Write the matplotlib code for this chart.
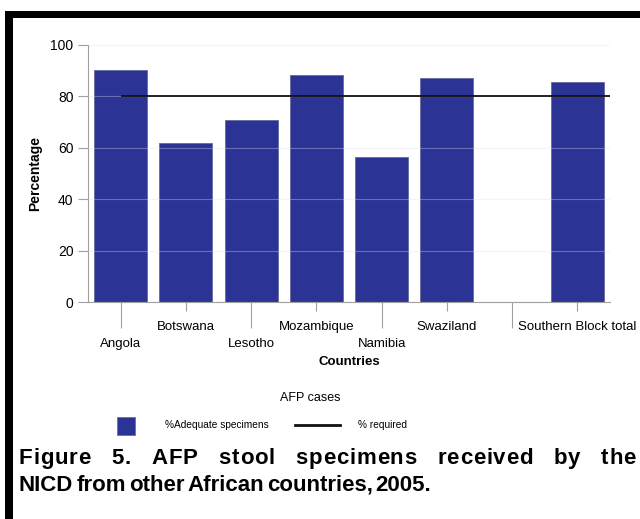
import numpy as np
import matplotlib.pyplot as plt
from matplotlib.patches import Rectangle
from matplotlib.lines import Line2D

plt.rcParams['font.family'] = ['Liberation Sans', 'DejaVu Sans']

# AFP stool specimens, % adequate per country (7th slot left empty)
countries = ['Angola', 'Botswana', 'Lesotho', 'Mozambique', 'Namibia',
             'Swaziland', '', 'Southern Block total']
adequate = [90.2, 62.0, 70.8, 88.5, 56.3, 87.2, np.nan, 85.5]
required = 80
yticks = [0, 20, 40, 60, 80, 100]

BLUE = '#2b3494'
GREY = '#a0a0a0'
W, H = 640, 519


def fx(px):
    return px / W


def fy(py):
    return 1 - py / H


fig = plt.figure(figsize=(6.4, 5.19), dpi=100)
ax = fig.add_axes([fx(88), fy(302), fx(610) - fx(88), fy(45) - fy(302)])

x = np.arange(len(countries))
ax.bar(x, adequate, width=0.81, color=BLUE, edgecolor='#6a6fa8',
       linewidth=0.7, zorder=2)
ax.hlines(required, 0, len(countries) - 0.5, color='#111111', lw=1.3, zorder=4)

ax.set_xlim(-0.5, len(countries) - 0.5)
ax.set_ylim(0, 100)
ax.set_yticks(yticks)

# faint grid showing over the bars
ax.set_axisbelow(False)
ax.yaxis.grid(True, color='#dde0f2', lw=0.8, alpha=0.35)

# staggered category labels: even ones on long ticks, odd ones on short ticks
ax.set_xticks(x[::2])
ax.set_xticklabels(countries[::2])
ax.set_xticks(x[1::2], minor=True)
ax.set_xticklabels(countries[1::2], minor=True)
ax.tick_params(axis='x', which='major', length=19, pad=7, color=GREY,
               width=0.8, labelsize=9.5)
ax.tick_params(axis='x', which='minor', length=6.5, pad=7, color=GREY,
               width=0.8, labelsize=9.5)
ax.tick_params(axis='y', length=7, pad=3.5, color=GREY, width=0.8,
               labelsize=10)

for side in ['top', 'right']:
    ax.spines[side].set_visible(False)
for side in ['left', 'bottom']:
    ax.spines[side].set_color(GREY)
    ax.spines[side].set_linewidth(0.8)

ax.set_ylabel('Percentage', fontsize=10, fontweight='bold', labelpad=6)
ax.set_xlabel('Countries', fontsize=9.5, fontweight='bold', labelpad=4)

# legend
fig.text(fx(310), fy(398), 'AFP cases', ha='center', va='center', fontsize=9)
fig.add_artist(Rectangle((fx(117), fy(435)), fx(18), 18 / H,
                         transform=fig.transFigure, facecolor=BLUE,
                         edgecolor='#6a6fa8', lw=0.6))
fig.text(fx(165), fy(425), '%Adequate specimens', va='center', fontsize=7.3)
fig.add_artist(Line2D([fx(295), fx(340)], [fy(425), fy(425)],
                      transform=fig.transFigure, color='#111111', lw=2))
fig.text(fx(358), fy(425), '% required', va='center', fontsize=7.3)


# caption first line: letters placed one by one, tracked and justified
def justified_line(line, y, x0, x1, size, track):
    r = fig.canvas.get_renderer()
    words = []
    for word in line.split():
        chars = []
        for ch in word:
            t = fig.text(0, y, ch, fontsize=size, fontweight='bold',
                         va='baseline')
            chars.append((t, t.get_window_extent(r).width))
        words.append(chars)
    widths = [sum(w for _, w in chars) + track * (len(chars) - 1)
              for chars in words]
    gap = (x1 - x0 - sum(widths)) / (len(words) - 1)
    pos = x0
    for chars, width in zip(words, widths):
        p = pos
        for t, w in chars:
            t.set_x(fx(p))
            p += w + track
        pos += width + gap


# last line: whole words with tight word gaps
def tight_line(line, y, x0, size, gap):
    r = fig.canvas.get_renderer()
    pos = x0
    for word in line.split():
        t = fig.text(fx(pos), y, word, fontsize=size, fontweight='bold',
                     va='baseline')
        pos += t.get_window_extent(r).width + gap


justified_line('Figure 5. AFP stool specimens received by the', fy(464),
               19, 636, 16, track=0.8)
tight_line('NICD from other African countries, 2005.', fy(491), 19, 16, gap=3)

# black frame on the left and top
fig.add_artist(Rectangle((fx(5), 0), fx(8), fy(11), transform=fig.transFigure,
                         color='black', lw=0))
fig.add_artist(Rectangle((fx(5), fy(18)), 1 - fx(5), 7 / H,
                         transform=fig.transFigure, color='black', lw=0))

fig.savefig('out.png', dpi=100)
